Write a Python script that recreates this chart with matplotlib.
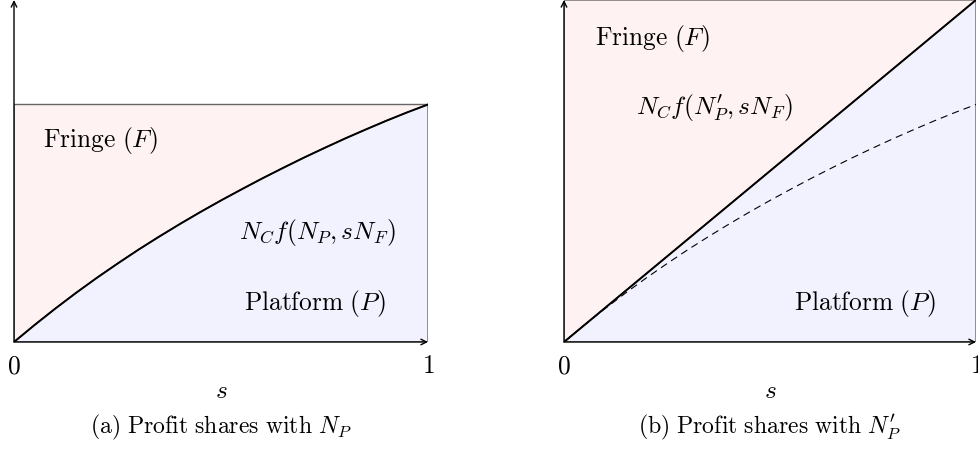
import numpy as np
import matplotlib.pyplot as plt

plt.rcParams['mathtext.fontset'] = 'cm'
plt.rcParams['font.family'] = ['DejaVu Serif']

# profit share curve: s -> share
s_vals = [0, 0.05, 0.10, 0.15, 0.20, 0.25, 0.30, 0.35, 0.40, 0.45, 0.50,
          0.55, 0.60, 0.65, 0.70, 0.75, 0.80, 0.85, 0.90, 0.95, 1.0]
f_vals = [0, 0.072, 0.141, 0.207, 0.270, 0.330, 0.388, 0.443, 0.496, 0.547, 0.596,
          0.643, 0.689, 0.733, 0.776, 0.817, 0.857, 0.895, 0.932, 0.967, 1.0]
# straight line in panel (b)
line_s = [0, 1]
line_f = [0, 1.44]
ytop = 1.44
tick_labels = ['0', '1']
captions = [r'$\mathrm{(a)\ Profit\ shares\ with}\ N_P$',
            r'$\mathrm{(b)\ Profit\ shares\ with}\ N_P^{\prime}$']

pink = '#fff2f2'
blue = '#f2f2ff'
edge = '#666666'
fs = 18.3

fig = plt.figure(figsize=(9.79, 4.55), dpi=100)
ax1 = fig.add_axes([14 / 979, 113 / 455, 414 / 979, 342 / 455])
ax2 = fig.add_axes([564 / 979, 113 / 455, 412 / 979, 342 / 455])

s = np.array(s_vals)
f = np.array(f_vals)

# panel (a)
ax1.fill(np.r_[s, 0], np.r_[f, 1], color=pink, ec=edge, lw=1)
ax1.fill(np.r_[s, 1], np.r_[f, 0], color=blue, ec=edge, lw=1)
ax1.plot(s, f, color='black', lw=1.4)
ax1.text(0.07, 0.85, r'$\mathrm{Fringe}\ (F)$', fontsize=fs, ha='left', va='center')
ax1.text(0.732, 0.46, r'$N_C f(N_P, sN_F)$', fontsize=fs, ha='center', va='center')
ax1.text(0.727, 0.164, r'$\mathrm{Platform}\ (P)$', fontsize=fs, ha='center', va='center')

# panel (b)
ax2.fill([0, 1, 0], [0, ytop, ytop], color=pink, ec=edge, lw=1)
ax2.fill([0, 1, 1], [0, ytop, 0], color=blue, ec=edge, lw=1)
ax2.plot(line_s, line_f, color='black', lw=1.4)
dl, = ax2.plot(s, f, color='black', lw=0.8)
dl.set_dashes([6.5, 4.5])
ax2.text(0.075, 1.277, r'$\mathrm{Fringe}\ (F)$', fontsize=fs, ha='left', va='center')
ax2.text(0.364, 0.983, r'$N_C f(N_P^{\prime}, sN_F)$', fontsize=fs, ha='center', va='center')
ax2.text(0.73, 0.164, r'$\mathrm{Platform}\ (P)$', fontsize=fs, ha='center', va='center')

for ax, cap in zip([ax1, ax2], captions):
    ax.set_xlim(0, 1)
    ax.set_ylim(0, ytop)
    ax.axis('off')
    # axes with arrow heads
    ax.annotate('', xy=(1, 0), xytext=(0, 0),
                arrowprops=dict(arrowstyle='->', lw=1, color='black', shrinkA=0, shrinkB=0),
                annotation_clip=False)
    ax.annotate('', xy=(0, ytop), xytext=(0, 0),
                arrowprops=dict(arrowstyle='->', lw=1, color='black', shrinkA=0, shrinkB=0),
                annotation_clip=False)
    for xv, lab in zip([0, 1], tick_labels):
        ax.text(xv, -0.105, '$' + lab + '$', fontsize=fs, ha='center', va='center', clip_on=False)
    ax.text(0.5, -0.21, '$s$', fontsize=fs, ha='center', va='center', clip_on=False)
    ax.text(0.5, -0.36, cap, fontsize=17.1, ha='center', va='center', clip_on=False)

fig.savefig('out.png', dpi=100)
